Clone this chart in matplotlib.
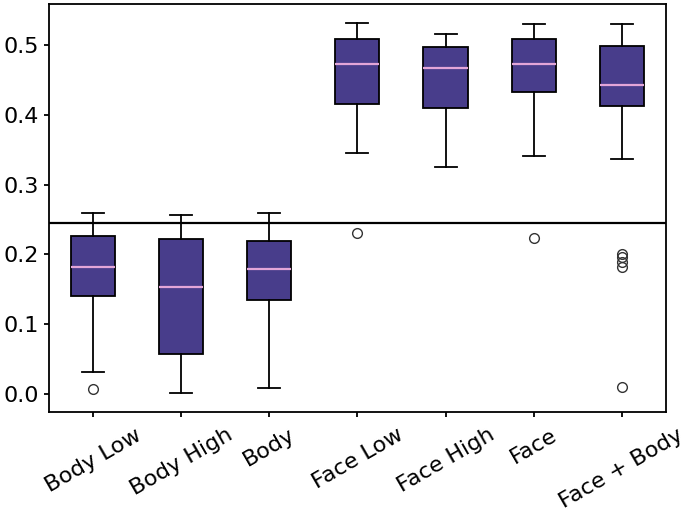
import matplotlib
matplotlib.use("Agg")
import matplotlib.pyplot as plt

labels = ["Body Low", "Body High", "Body", "Face Low", "Face High", "Face", "Face + Body"]
whislo = [0.031, 0.001, 0.009, 0.345, 0.325, 0.341, 0.336]
q1 = [0.140, 0.057, 0.135, 0.416, 0.410, 0.433, 0.413]
med = [0.182, 0.153, 0.179, 0.472, 0.467, 0.473, 0.442]
q3 = [0.226, 0.222, 0.219, 0.509, 0.497, 0.509, 0.499]
whishi = [0.259, 0.257, 0.259, 0.532, 0.516, 0.530, 0.530]
fliers = [[0.007], [], [], [0.231], [], [0.224], [0.201, 0.196, 0.189, 0.182, 0.010]]
threshold = 0.245

stats = []
for i, name in enumerate(labels):
    stats.append({
        "label": name,
        "whislo": whislo[i],
        "q1": q1[i],
        "med": med[i],
        "q3": q3[i],
        "whishi": whishi[i],
        "fliers": fliers[i],
    })

fig = plt.figure(figsize=(6.85, 5.13), dpi=100)
ax = fig.add_axes([0.0715, 0.1975, 0.9005, 0.7945])

lw = 1.3
ax.bxp(
    stats,
    widths=0.5,
    patch_artist=True,
    boxprops=dict(facecolor="#483D8B", edgecolor="black", linewidth=lw),
    whiskerprops=dict(linewidth=lw),
    capprops=dict(linewidth=lw),
    medianprops=dict(color="#E3A6D8", linewidth=1.6),
    flierprops=dict(marker="o", markerfacecolor="none", markeredgecolor="#333333", markersize=7),
)
ax.axhline(threshold, color="black", linewidth=1.6)

for side in ax.spines.values():
    side.set_linewidth(lw)
ax.tick_params(labelsize=16, width=lw)
ax.tick_params(axis="x", pad=6)
plt.setp(ax.get_xticklabels(), rotation=30, ha="center")

fig.savefig("out.png", dpi=100)
